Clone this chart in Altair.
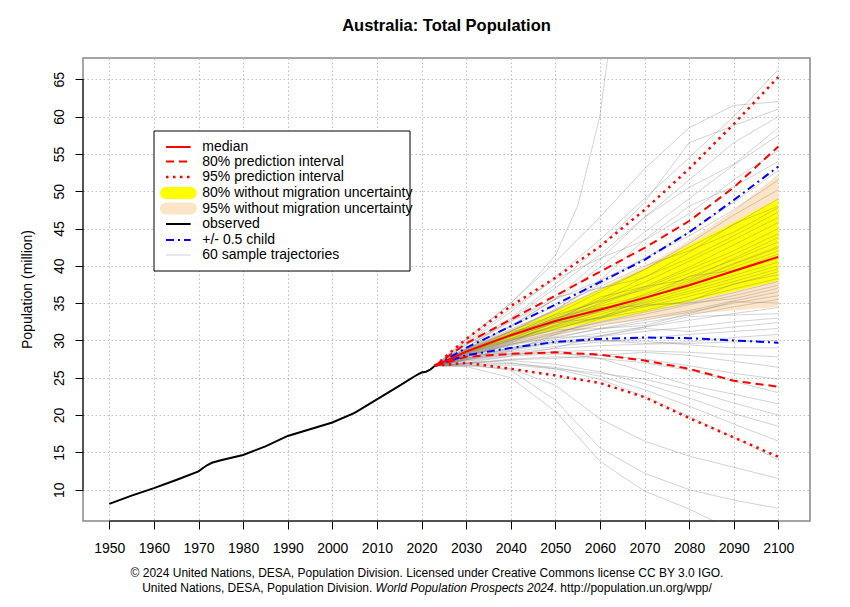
import altair as alt
import pandas as pd

# ---------------- text ----------------
TITLE = "Australia: Total Population"
Y_TITLE = "Population (million)"
FOOTER1 = "© 2024 United Nations, DESA, Population Division. Licensed under Creative Commons license CC BY 3.0 IGO."
FOOTER2_A = "United Nations, DESA, Population Division."
FOOTER2_B = "World Population Prospects 2024"
FOOTER2_C = ". http://population.un.org/wpp/"
LEGEND_LABELS = ["median", "80% prediction interval", "95% prediction interval",
                 "80% without migration uncertainty", "95% without migration uncertainty",
                 "observed", "+/- 0.5 child", "60 sample trajectories"]

X_TICKS = [1950, 1960, 1970, 1980, 1990, 2000, 2010, 2020, 2030, 2040, 2050, 2060, 2070, 2080, 2090, 2100]
Y_TICKS = [10, 15, 20, 25, 30, 35, 40, 45, 50, 55, 60, 65]

# ---------------- observed ----------------
OBS_YEARS = [1950, 1955, 1960, 1965, 1970, 1971, 1972, 1973, 1975, 1980, 1985, 1990, 1995,
             2000, 2005, 2010, 2015, 2019, 2020, 2021, 2022, 2023]
OBS_POP = [8.1, 9.2, 10.2, 11.3, 12.45, 12.9, 13.3, 13.6, 13.95, 14.65, 15.8, 17.2, 18.1,
           19.0, 20.3, 22.1, 23.9, 25.4, 25.7, 25.8, 26.1, 26.6]

# ---------------- projections ----------------
PROJ_YEARS = [2023, 2030, 2040, 2050, 2060, 2070, 2080, 2090, 2100]
MEDIAN = [26.6, 28.5, 30.7, 32.6, 34.1, 35.7, 37.4, 39.3, 41.2]
PI80_LO = [26.6, 27.8, 28.2, 28.4, 28.1, 27.3, 26.2, 24.6, 23.8]
PI80_HI = [26.6, 29.6, 32.8, 36.0, 39.2, 42.4, 46.0, 50.5, 56.0]
PI95_LO = [26.6, 27.0, 26.2, 25.3, 24.3, 22.4, 19.6, 17.0, 14.4]
PI95_HI = [26.6, 30.2, 34.6, 38.4, 42.6, 47.5, 53.0, 59.0, 65.3]
HALF_CHILD_LO = [26.6, 28.0, 29.0, 29.8, 30.2, 30.4, 30.3, 30.0, 29.7]
HALF_CHILD_HI = [26.6, 29.0, 31.9, 34.8, 37.8, 40.8, 44.5, 48.8, 53.3]
NOMIG80_LO = [26.6, 28.2, 30.0, 31.4, 32.6, 33.8, 35.2, 36.6, 38.0]
NOMIG80_HI = [26.6, 28.7, 31.2, 33.9, 36.8, 39.6, 42.8, 45.8, 49.0]
NOMIG95_LO = [26.6, 27.9, 29.4, 30.6, 32.0, 32.8, 33.5, 34.0, 34.5]
NOMIG95_HI = [26.6, 28.8, 31.5, 34.2, 37.0, 39.9, 43.4, 47.4, 52.3]

# ---------------- sample trajectories (values for 2030..2100) ----------------
TRAJ_YEARS = [2030, 2040, 2050, 2060, 2070, 2080, 2090, 2100]
TRAJ = [
    [29.6, 33.8, 38.5, 43.5, 49.0, 54.5, 60.0, 66.3],
    [30.2, 35.0, 40.5, 46.5, 53.0, 58.5, 61.5, 62.0],
    [29.4, 33.0, 37.5, 42.5, 48.5, 56.5, 58.8, 61.0],
    [29.0, 32.8, 37.0, 41.5, 46.5, 51.5, 56.5, 60.0],
    [28.8, 31.8, 35.6, 40.8, 46.5, 50.5, 53.6, 58.5],
    [28.9, 32.0, 35.5, 39.8, 44.5, 49.0, 53.5, 57.5],
    [29.8, 34.2, 38.2, 41.0, 43.4, 47.0, 51.5, 55.5],
    [28.5, 31.2, 34.0, 38.0, 43.5, 48.0, 50.6, 54.0],
    [29.1, 32.5, 35.5, 38.0, 41.0, 44.5, 48.5, 52.8],
    [28.6, 31.2, 34.2, 37.5, 41.0, 44.0, 47.5, 51.5],
    [28.8, 31.5, 34.0, 36.8, 39.5, 43.0, 46.8, 50.2],
    [28.4, 30.8, 33.5, 36.5, 39.5, 42.5, 45.5, 49.0],
    [29.4, 32.6, 35.8, 37.0, 38.4, 41.8, 45.6, 48.0],
    [28.8, 31.9, 34.6, 37.2, 40.0, 42.0, 44.5, 47.8],
    [28.3, 30.5, 32.8, 35.5, 38.5, 41.0, 44.0, 47.2],
    [28.6, 31.0, 33.2, 35.3, 37.8, 40.6, 43.5, 46.5],
    [28.5, 30.2, 32.5, 35.0, 37.2, 39.8, 42.8, 45.8],
    [28.2, 30.6, 33.0, 34.8, 37.0, 39.5, 42.0, 45.0],
    [28.7, 31.3, 33.4, 35.2, 36.8, 39.0, 41.5, 44.3],
    [27.8, 29.6, 32.6, 35.8, 37.2, 38.2, 41.0, 43.8],
    [28.1, 30.0, 32.0, 34.0, 36.2, 38.5, 40.8, 43.2],
    [28.6, 30.9, 32.9, 34.6, 36.0, 38.0, 40.3, 42.6],
    [27.9, 29.9, 32.1, 33.9, 35.4, 37.8, 40.2, 42.4],
    [28.3, 30.3, 32.4, 34.2, 35.8, 37.6, 39.8, 42.0],
    [28.8, 31.2, 32.4, 33.0, 35.6, 38.6, 39.4, 41.6],
    [28.5, 30.7, 32.7, 34.3, 35.7, 37.3, 39.2, 41.0],
    [28.2, 30.2, 31.9, 33.5, 35.2, 37.0, 38.7, 40.5],
    [28.4, 30.5, 32.3, 33.8, 35.0, 36.6, 38.3, 40.0],
    [28.0, 29.8, 31.5, 33.2, 34.8, 36.3, 37.9, 39.6],
    [28.3, 30.1, 31.8, 33.1, 34.5, 35.9, 37.5, 39.2],
    [28.6, 30.8, 33.0, 34.4, 34.6, 35.2, 37.6, 38.8],
    [28.1, 30.0, 31.6, 33.0, 34.0, 35.4, 36.9, 38.3],
    [27.8, 29.4, 31.0, 32.5, 33.8, 35.0, 36.4, 37.9],
    [28.0, 29.7, 31.1, 32.4, 33.5, 34.8, 36.0, 37.4],
    [27.4, 28.6, 30.8, 32.9, 34.8, 35.0, 35.6, 37.0],
    [27.9, 29.5, 30.8, 32.0, 33.0, 34.0, 35.3, 36.5],
    [27.6, 29.0, 30.3, 31.6, 32.7, 33.8, 35.0, 36.0],
    [27.8, 29.3, 30.5, 31.5, 32.4, 33.4, 34.5, 35.5],
    [28.2, 30.0, 31.4, 31.6, 32.0, 33.6, 35.2, 35.0],
    [27.7, 29.0, 30.1, 31.0, 31.8, 32.7, 33.6, 34.4],
    [27.9, 29.5, 30.4, 30.6, 31.8, 33.2, 33.4, 33.6],
    [27.6, 28.9, 29.8, 30.5, 31.2, 31.8, 32.5, 33.0],
    [27.0, 27.9, 29.0, 30.6, 31.6, 31.2, 31.8, 32.4],
    [27.5, 28.5, 29.2, 29.8, 30.3, 30.8, 31.2, 31.6],
    [27.6, 28.8, 29.8, 30.0, 29.6, 29.8, 30.4, 30.8],
    [27.4, 28.3, 28.9, 29.3, 29.5, 29.6, 29.8, 30.0],
    [27.5, 28.7, 29.6, 30.0, 29.9, 29.4, 29.0, 29.0],
    [27.3, 28.1, 28.5, 28.7, 28.6, 28.4, 28.1, 27.8],
    [26.9, 27.4, 27.6, 28.0, 28.4, 28.0, 27.2, 26.4],
    [27.2, 27.9, 28.2, 28.0, 27.5, 26.6, 25.6, 24.8],
    [26.9, 27.5, 27.8, 27.6, 27.0, 26.0, 24.5, 23.0],
    [27.4, 28.2, 28.4, 27.6, 25.8, 24.0, 22.8, 21.5],
    [26.6, 26.7, 26.2, 25.6, 24.8, 23.4, 21.6, 20.0],
    [27.0, 27.3, 26.8, 25.8, 24.2, 22.3, 20.2, 18.5],
    [26.7, 26.9, 26.4, 25.2, 23.4, 21.2, 18.8, 16.5],
    [26.9, 27.0, 26.2, 24.8, 22.5, 19.8, 17.0, 14.0],
    [26.6, 26.2, 24.0, 19.5, 16.5, 14.5, 13.0, 11.5],
    [26.8, 26.0, 22.0, 15.6, 12.2, 10.0, 8.6, 7.5],
    [26.5, 25.0, 20.5, 13.8, 9.8, 7.4, 4.5, 2.0],
]
OUTLIER_YEARS = [2030, 2040, 2045, 2050, 2055, 2058, 2060, 2062]
OUTLIER_VALUES = [30.0, 35.0, 38.0, 41.4, 48.0, 55.2, 60.1, 69.0]

# ---------------- layout / style ----------------
W, H = 727, 463
X_DOMAIN = [1944.1, 2107.1]
Y_DOMAIN = [5.8, 67.85]
FONT = "Liberation Sans"
RED, BLUE = "#FF0000", "#0000FF"
YELLOW, BEIGE = "#FFFF00", "#FCE4C6"

xs = alt.Scale(domain=X_DOMAIN, nice=False, zero=False)
ys = alt.Scale(domain=Y_DOMAIN, nice=False, zero=False)
common_axis = dict(grid=True, gridColor="#BEBEBE", gridDash=[1.5, 2.5], gridWidth=1,
                   domain=False, tickColor="black", tickSize=8, tickWidth=1,
                   labelFont=FONT, labelFontSize=14, labelColor="black",
                   labelFlush=False, labelOverlap=False, format="d", title=None)
x_axis = alt.Axis(values=X_TICKS, labelPadding=12, labelBaseline="top", **common_axis)
y_axis = alt.Axis(values=Y_TICKS, labelAngle=270, labelAlign="center",
                  labelBaseline="alphabetic", labelPadding=11.5, **common_axis)


def X(field="year"):
    return alt.X(f"{field}:Q", scale=xs, axis=x_axis)


def Y(field="value"):
    return alt.Y(f"{field}:Q", scale=ys, axis=y_axis)


# ---------------- data frames ----------------
obs_df = pd.DataFrame({"year": OBS_YEARS, "value": OBS_POP})
band_df = pd.DataFrame({"year": PROJ_YEARS, "lo80": NOMIG80_LO, "hi80": NOMIG80_HI,
                        "lo95": NOMIG95_LO, "hi95": NOMIG95_HI})
med_df = pd.DataFrame({"year": PROJ_YEARS, "value": MEDIAN})


def bounds_df(lo, hi):
    return pd.DataFrame({"year": PROJ_YEARS * 2, "value": lo + hi,
                         "bound": ["lo"] * len(lo) + ["hi"] * len(hi)})


rows = []
for i, tr in enumerate(TRAJ):
    rows.append({"traj": i, "year": OBS_YEARS[-1], "value": OBS_POP[-1]})
    for yr, v in zip(TRAJ_YEARS, tr):
        rows.append({"traj": i, "year": yr, "value": v})
rows.append({"traj": len(TRAJ), "year": OBS_YEARS[-1], "value": OBS_POP[-1]})
for yr, v in zip(OUTLIER_YEARS, OUTLIER_VALUES):
    rows.append({"traj": len(TRAJ), "year": yr, "value": v})
traj_df = pd.DataFrame(rows)

# ---------------- layers ----------------
band95 = alt.Chart(band_df).mark_area(color=BEIGE, opacity=1).encode(
    x=X(), y=Y("lo95"), y2="hi95")
band80 = alt.Chart(band_df).mark_area(color=YELLOW, opacity=1).encode(
    x=X(), y=Y("lo80"), y2="hi80")
traj = alt.Chart(traj_df).mark_line(color="#7A7A7A", opacity=0.33, strokeWidth=1, clip=True).encode(
    x=X(), y=Y(), detail="traj:N", order="year:Q")
observed = alt.Chart(obs_df).mark_line(color="black", strokeWidth=2).encode(x=X(), y=Y())
half = alt.Chart(bounds_df(HALF_CHILD_LO, HALF_CHILD_HI)).mark_line(
    color=BLUE, strokeWidth=2, strokeDash=[8, 4, 2, 4], clip=True).encode(x=X(), y=Y(), detail="bound:N")
pi95 = alt.Chart(bounds_df(PI95_LO, PI95_HI)).mark_line(
    color=RED, strokeWidth=2.5, strokeDash=[2.5, 4.5], clip=True).encode(x=X(), y=Y(), detail="bound:N")
pi80 = alt.Chart(bounds_df(PI80_LO, PI80_HI)).mark_line(
    color=RED, strokeWidth=2, strokeDash=[8, 5], clip=True).encode(x=X(), y=Y(), detail="bound:N")
median = alt.Chart(med_df).mark_line(color=RED, strokeWidth=2).encode(x=X(), y=Y())

# R-style axis lines spanning first..last tick
xline = alt.Chart(pd.DataFrame({"a": [X_TICKS[0]], "b": [X_TICKS[-1]]})).mark_rule(
    color="black", strokeWidth=1).encode(x=X("a"), x2="b", y=alt.value(H))
yline = alt.Chart(pd.DataFrame({"a": [Y_TICKS[0]], "b": [Y_TICKS[-1]]})).mark_rule(
    color="black", strokeWidth=1).encode(y=Y("a"), y2="b", x=alt.value(0))

one = pd.DataFrame({"k": [0]})

# ---------------- legend ----------------
LX0, LX1, LTX = 83, 107.7, 119.3
LEG_Y = [89, 103.5, 119, 135, 150.5, 166, 182, 197]
legend_layers = [
    alt.Chart(one).mark_rect(fill="white", stroke="black", strokeWidth=1).encode(
        x=alt.value(71), x2=alt.value(327), y=alt.value(73), y2=alt.value(213))
]
styles = [
    dict(color=RED, strokeWidth=2),
    dict(color=RED, strokeWidth=2, strokeDash=[8, 5]),
    dict(color=RED, strokeWidth=2.5, strokeDash=[2.5, 4.5]),
    dict(color=YELLOW, strokeWidth=12, strokeCap="round"),
    dict(color=BEIGE, strokeWidth=12, strokeCap="round"),
    dict(color="black", strokeWidth=2),
    dict(color=BLUE, strokeWidth=2, strokeDash=[8, 4, 2, 4]),
    dict(color="#D0D0D0", strokeWidth=1),
]
for lab, yy, st in zip(LEGEND_LABELS, LEG_Y, styles):
    legend_layers.append(alt.Chart(one).mark_rule(**st).encode(
        x=alt.value(LX0), x2=alt.value(LX1), y=alt.value(yy)))
    legend_layers.append(alt.Chart(one).mark_text(
        align="left", baseline="middle", font=FONT, fontSize=14, color="black").encode(
        x=alt.value(LTX), y=alt.value(yy), text=alt.value(lab)))

# ---------------- titles / footers ----------------
title = alt.Chart(one).mark_text(font=FONT, fontSize=16.5, fontWeight="bold", color="black",
                                 align="center", baseline="alphabetic").encode(
    x=alt.value(W / 2), y=alt.value(-27), text=alt.value(TITLE))
ytitle = alt.Chart(one).mark_text(font=FONT, fontSize=14, color="black", angle=270,
                                  align="center", baseline="middle").encode(
    x=alt.value(-55), y=alt.value(H / 2), text=alt.value(Y_TITLE))
f1 = alt.Chart(one).mark_text(font=FONT, fontSize=12, color="black", align="center",
                              baseline="alphabetic").encode(
    x=alt.value(344), y=alt.value(519), text=alt.value(FOOTER1))
f2a = alt.Chart(one).mark_text(font=FONT, fontSize=12, color="black", align="left",
                               baseline="alphabetic").encode(
    x=alt.value(59.2), y=alt.value(534), text=alt.value(FOOTER2_A))
f2b = alt.Chart(one).mark_text(font=FONT, fontSize=12, fontStyle="italic", color="black",
                               align="left", baseline="alphabetic").encode(
    x=alt.value(292.6), y=alt.value(534), text=alt.value(FOOTER2_B))
f2c = alt.Chart(one).mark_text(font=FONT, fontSize=12, color="black", align="left",
                               baseline="alphabetic").encode(
    x=alt.value(470.7), y=alt.value(534), text=alt.value(FOOTER2_C))

chart = alt.layer(
    band95, band80, traj, observed, half, pi95, pi80, median, xline, yline,
    *legend_layers, title, ytitle, f1, f2a, f2b, f2c
).properties(
    width=W, height=H,
    padding={"left": 75, "top": 50, "right": 32, "bottom": 76},
    autosize=alt.AutoSizeParams(type="none"),
).configure_view(stroke="#888888", strokeWidth=1.5)

chart.save("out.html", embed_options={"renderer": "svg", "actions": False})
